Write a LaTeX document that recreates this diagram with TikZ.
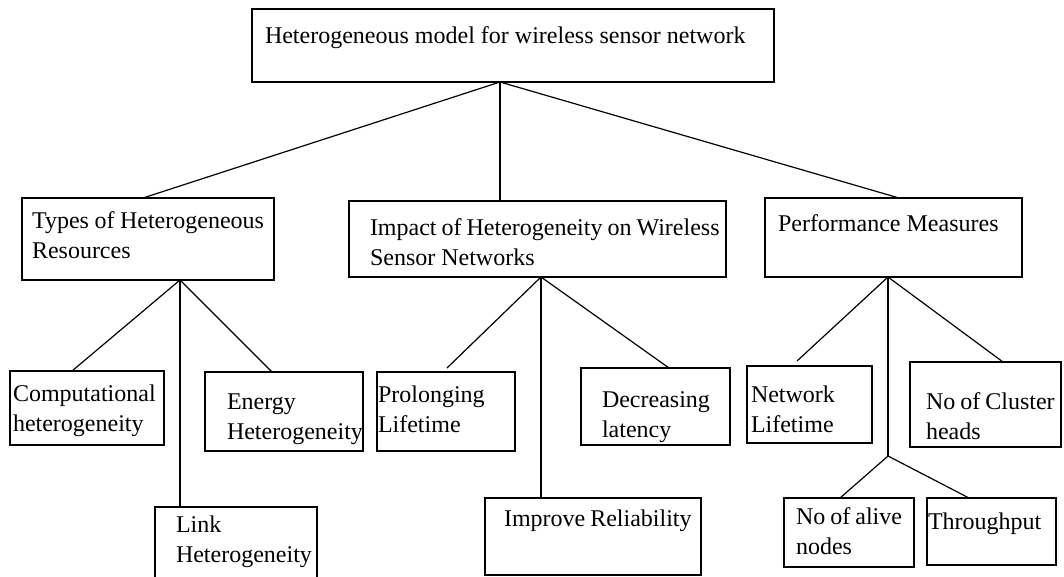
\documentclass[tikz,border=0pt]{standalone}
\usepackage{fontspec}
\setmainfont{Liberation Serif}
\usetikzlibrary{calc}
\hyphenpenalty=10000
\exhyphenpenalty=10000

\begin{document}
\begin{tikzpicture}[x=1pt, y=-1pt,
    box/.style={rectangle, draw=black, line width=1.8pt, anchor=north west,
      align=left, inner ysep=0pt, outer sep=0pt, font=\fontsize{24}{30}\selectfont,
      execute at begin node={\spaceskip=6pt plus 1pt minus 1pt\relax}},
    conn/.style={line width=1.2pt, black}
  ]
    \clip (0,0) rectangle (1064,577);

    \node[box, text width=496pt, inner xsep=13pt, text height=35pt, text depth=38pt] (model) at (252,9)
      {Heterogeneous model for wireless sensor network};

    \node[box, text width=232pt, inner xsep=10pt, text height=31pt, text depth=51pt] (types) at (22,198)
      {Types~of~Heterogeneous\\Resources};
    \node[box, text width=335pt, inner xsep=21pt, text height=35pt, text depth=41pt] (impact) at (349,201)
      {Impact~of~Heterogeneity~on~Wireless\\Sensor~Networks};
    \node[box, text width=231pt, inner xsep=13pt, text height=33pt, text depth=46pt] (perf) at (765,198)
      {Performance~Measures};

    \node[box, text width=148pt, inner xsep=3pt,  text height=30pt, text depth=44pt] (comp) at (10,371)
      {Computational\\heterogeneity};
    \node[box, text width=114pt, inner xsep=22pt, text height=37pt, text depth=42pt] (energy) at (205,372)
      {Energy\\Heterogeneity};
    \node[box, text width=120pt, inner xsep=21pt, text height=25pt, text depth=65pt] (link) at (155,507)
      {Link\\Heterogeneity};

    \node[box, text width=136pt, inner xsep=1pt,  text height=30pt, text depth=49pt] (prolong) at (377,372)
      {Prolonging\\Lifetime};
    \node[box, text width=107pt, inner xsep=21pt, text height=39pt, text depth=38pt] (latency) at (581,368)
      {Decreasing\\latency};
    \node[box, text width=178pt, inner xsep=19pt, text height=28pt, text depth=49pt] (reliab) at (485,498)
      {Improve~Reliability};

    \node[box, text width=117pt, inner xsep=4pt,  text height=36pt, text depth=41pt] (netlife) at (747,366)
      {Network\\Lifetime};
    \node[box, text width=119pt, inner xsep=16pt, text height=47pt, text depth=38pt] (heads) at (910,362)
      {No~of~Cluster\\heads};
    \node[box, text width=106pt, inner xsep=12pt, text height=26pt, text depth=43pt] (alive) at (784,498)
      {No~of~alive\\nodes};
    \node[box, text width=127pt, inner xsep=1pt,  text height=31pt, text depth=36pt] (thru) at (927,498)
      {Throughput};

    \coordinate (mj) at ($(model.south west)+(248,0)$);
    \coordinate (tj) at ($(types.south west)+(158,0)$);
    \coordinate (ij) at ($(impact.south west)+(192,0)$);
    \coordinate (pj) at ($(perf.south west)+(123,0)$);
    \coordinate (pk) at ($(perf.south west)+(123,179)$);

    \draw[conn] (mj) -- ($(types.north west)+(121,0)$);
    \draw[conn] (mj) -- ($(impact.north west)+(151,0)$);
    \draw[conn] (mj) -- ($(perf.north west)+(134,0)$);

    \draw[conn] (tj) -- ($(comp.north west)+(62,0)$);
    \draw[conn] (tj) -- ($(energy.north west)+(67,0)$);
    \draw[conn] (tj) -- ($(link.north west)+(25,0)$);

    \draw[conn] (ij) -- ($(prolong.north west)+(70,-4)$);
    \draw[conn] (ij) -- ($(latency.north west)+(88,0)$);
    \draw[conn] (ij) -- ($(reliab.north west)+(56,0)$);

    \draw[conn] (pj) -- ($(netlife.north west)+(50,-5)$);
    \draw[conn] (pj) -- ($(heads.north west)+(93,0)$);
    \draw[conn] (pj) -- (pk);
    \draw[conn] (pk) -- ($(alive.north west)+(56,0)$);
    \draw[conn] (pk) -- ($(thru.north west)+(42,0)$);
  \end{tikzpicture}
\end{document}
